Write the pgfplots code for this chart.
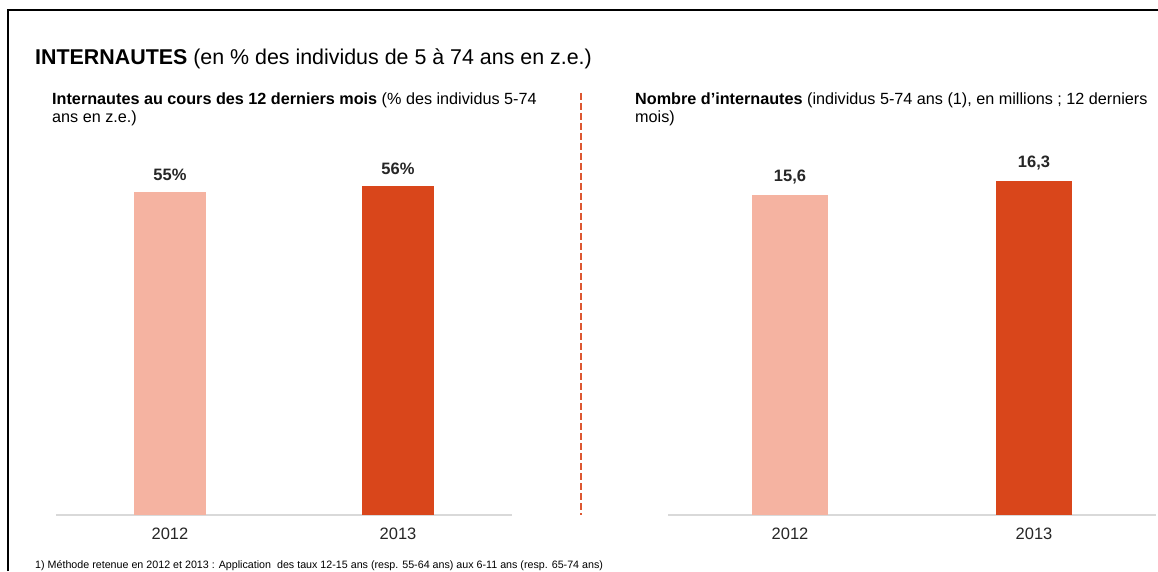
\documentclass[border=0pt]{standalone}
\usepackage{pgfplots}
\pgfplotsset{compat=1.18}
\usepackage{fontspec}
\setmainfont{Liberation Sans}
\definecolor{light}{HTML}{F5B3A1}
\definecolor{dark}{HTML}{D9461B}
\definecolor{axgray}{HTML}{D9D9D9}
\begin{document}
\begin{tikzpicture}
\useasboundingbox (0,0) rectangle (1158pt,571pt);
\fill[white] (0,0) rectangle (1158pt,571pt);
\draw[line width=2pt,black] (8pt,0pt) -- (8pt,561pt) -- (1158pt,561pt);
% title
\node[anchor=base west,inner sep=0pt,font=\fontsize{21.4}{24}\selectfont] at (35pt,506pt) {\textbf{INTERNAUTES} (en \% des individus de 5 à 74 ans en z.e.)};
\node[anchor=base west,inner sep=0pt,align=left,font=\fontsize{16.2}{18}\selectfont] at (52pt,448pt) {\textbf{Internautes au cours des 12 derniers mois} (\% des individus 5-74\\ans en z.e.)};
\node[anchor=base west,inner sep=0pt,align=left,font=\fontsize{16.2}{18}\selectfont] at (635pt,448pt) {\textbf{Nombre d’internautes} (individus 5-74 ans (1), en millions ; 12 derniers\\mois)};
\node[anchor=base west,inner sep=0pt,font=\fontsize{10.7}{12}\selectfont] at (35pt,3pt) {1) Méthode retenue en 2012 et 2013 : Application\ \ des taux 12-15 ans (resp. 55-64 ans) aux 6-11 ans (resp. 65-74 ans)};
\draw[dark!90,line width=2.5pt,dash pattern=on 7pt off 3pt] (581pt,478pt) -- (581pt,56pt);
\pgfplotsset{
  mybar/.style={
    anchor=south west,
    scale only axis,
    height=365pt,
    ymin=0,
    xmin=-0.5, xmax=1.5,
    axis x line=bottom,
    axis y line=none,
    x axis line style={draw=axgray,line width=1.5pt,-},
    xtick={0,1},
    xticklabels={2012,2013},
    major tick length=0pt,
    xticklabel style={font=\fontsize{16.5}{18}\selectfont,text=black!85,yshift=-9pt},
    ybar,
    bar shift=0pt,
    point meta=explicit symbolic,
    nodes near coords,
    every node near coord/.append style={font=\bfseries\fontsize{16.5}{18}\selectfont,text=black!85,inner sep=0pt,anchor=south,yshift=10.5pt},
    clip=false,
  }
}
\begin{axis}[mybar, at={(56pt,56pt)}, width=456pt, ymax=62.07, bar width=72pt]
\addplot[fill=light,draw=none] coordinates {(0,55) [55\%]};
\addplot[fill=dark,draw=none] coordinates {(1,56) [56\%]};
\end{axis}
\begin{axis}[mybar, at={(668pt,56pt)}, width=488pt, ymax=17.8, bar width=76pt]
\addplot[fill=light,draw=none] coordinates {(0,15.6) [{15,6}]};
\addplot[fill=dark,draw=none] coordinates {(1,16.3) [{16,3}]};
\end{axis}
\end{tikzpicture}
\end{document}
